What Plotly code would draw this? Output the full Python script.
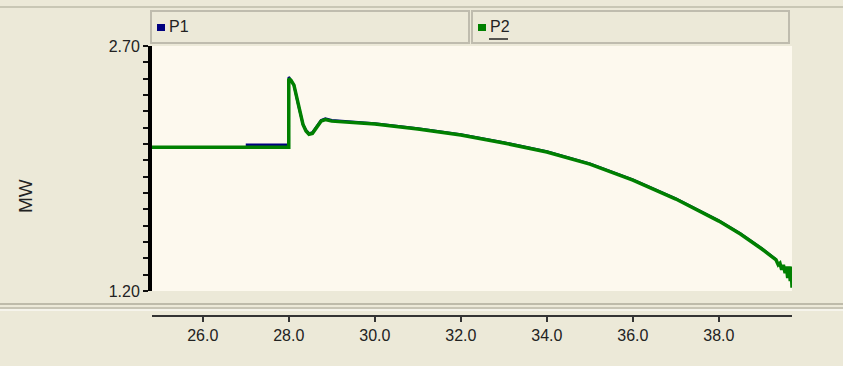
import plotly.graph_objects as go

# ---- data ----
p1_time = [27.0, 28.0, 28.0, 28.05, 28.12, 28.23, 28.33, 28.40, 28.47, 28.55, 28.65, 28.75,
           28.85, 29.0, 30.0, 31.0, 32.0, 33.0, 34.0, 35.0, 36.0, 37.0, 38.0, 38.5, 39.0, 39.33]
p1_mw = [2.095, 2.095, 2.51, 2.49, 2.46, 2.33, 2.22, 2.185, 2.165, 2.17, 2.21, 2.245,
         2.255, 2.245, 2.225, 2.195, 2.158, 2.109, 2.054, 1.98, 1.882, 1.766, 1.631, 1.552,
         1.46, 1.393]

p2_time = [24.82, 28.0, 28.0, 28.05, 28.12, 28.23, 28.33, 28.40, 28.47, 28.55, 28.65, 28.75,
           28.85, 29.0, 30.0, 31.0, 32.0, 33.0, 34.0, 35.0, 36.0, 37.0, 38.0, 38.5, 39.0, 39.33,
           39.38, 39.42, 39.46, 39.50, 39.54, 39.57, 39.60, 39.63, 39.66, 39.68, 39.70]
p2_mw = [2.08, 2.08, 2.50, 2.49, 2.46, 2.33, 2.22, 2.18, 2.16, 2.165, 2.205, 2.24,
         2.25, 2.24, 2.222, 2.192, 2.155, 2.106, 2.051, 1.977, 1.879, 1.763, 1.628, 1.549,
         1.457, 1.39,
         1.36, 1.37, 1.33, 1.36, 1.31, 1.35, 1.28, 1.35, 1.26, 1.35, 1.22]

series_names = ["P1", "P2"]
series_colors = ["#000080", "#008000"]

x_tick_vals = [26.0, 28.0, 30.0, 32.0, 34.0, 36.0, 38.0]
x_tick_text = ["26.0", "28.0", "30.0", "32.0", "34.0", "36.0", "38.0"]
y_min, y_max = 1.20, 2.70
y_tick_vals = [round(1.2 + 0.1 * i, 1) for i in range(16)]
y_tick_text = ["1.20"] + [""] * 14 + ["2.70"]
y_title = "MW"

# ---- layout geometry (pixels) ----
W, H = 843, 366
L, R = 152, 792          # plot area left/right
T, B = 46, 316           # paper top / x-axis line
PLOT_BOTTOM = 291
BG = "#ECE9D8"
FONT = "Liberation Sans"


def px(xp):
    return (xp - L) / (R - L)


def py(yp):
    return (B - yp) / (B - T)


fig = go.Figure()
fig.add_trace(go.Scatter(x=p1_time, y=p1_mw, mode="lines", name=series_names[0],
                         line=dict(color=series_colors[0], width=2.5)))
fig.add_trace(go.Scatter(x=p2_time, y=p2_mw, mode="lines", name=series_names[1],
                         line=dict(color=series_colors[1], width=3.5)))

shapes = []
annotations = []
# top thin line
shapes.append(dict(type="line", xref="paper", yref="paper", x0=px(0), x1=px(W),
                   y0=py(7), y1=py(7), line=dict(color="#BEBBAA", width=1.5)))
# legend boxes
boxes = [(151, 469), (472, 789)]
for i, (bx0, bx1) in enumerate(boxes):
    shapes.append(dict(type="rect", xref="paper", yref="paper",
                       x0=px(bx0), x1=px(bx1), y0=py(43), y1=py(11),
                       fillcolor=BG, line=dict(color="#BFBCAE", width=2)))
    shapes.append(dict(type="rect", xref="paper", yref="paper",
                       x0=px(bx0 + 6), x1=px(bx0 + 14), y0=py(31), y1=py(24),
                       fillcolor=series_colors[i], line=dict(width=0)))
    annotations.append(dict(xref="paper", yref="paper", x=px(bx0 + 16), y=py(27),
                            text=series_names[i], showarrow=False, xanchor="left",
                            yanchor="middle",
                            font=dict(family=FONT, size=16, color="#222")))
# underline under P2
shapes.append(dict(type="line", xref="paper", yref="paper", x0=px(489), x1=px(508),
                   y0=py(39), y1=py(39), line=dict(color="#222", width=1.5)))
# double separator line above x axis
shapes.append(dict(type="line", xref="paper", yref="paper", x0=px(0), x1=px(W),
                   y0=py(304), y1=py(304), line=dict(color="#BEBBAA", width=2)))
shapes.append(dict(type="line", xref="paper", yref="paper", x0=px(0), x1=px(W),
                   y0=py(308), y1=py(308), line=dict(color="#C8C5B5", width=2)))
shapes.append(dict(type="line", xref="paper", yref="paper", x0=px(0), x1=px(W),
                   y0=py(310), y1=py(310), line=dict(color="#FFFFFF", width=1)))

# y title
annotations.append(dict(xref="paper", yref="paper", x=px(25), y=py(196), text=y_title,
                        showarrow=False, textangle=-90, xanchor="center",
                        yanchor="middle",
                        font=dict(family=FONT, size=19, color="#222")))

fig.update_layout(
    width=W, height=H,
    margin=dict(l=L, r=W - R, t=T, b=H - B, pad=0),
    paper_bgcolor=BG, plot_bgcolor="#FDF9EE",
    showlegend=False,
    shapes=shapes, annotations=annotations,
    xaxis=dict(range=[24.82, 39.70], anchor="free", position=0,
               tickmode="array", tickvals=x_tick_vals, ticktext=x_tick_text,
               ticks="outside", ticklen=5, tickwidth=2, tickcolor="#333",
               showline=True, linecolor="#333", linewidth=2,
               showgrid=False, zeroline=False,
               tickfont=dict(family=FONT, size=16, color="#222")),
    yaxis=dict(range=[y_min, y_max], domain=[py(PLOT_BOTTOM), 1],
               tickmode="array", tickvals=y_tick_vals, ticktext=y_tick_text,
               ticks="outside", ticklen=5, tickwidth=2, tickcolor="#111",
               showline=True, linecolor="#000", linewidth=4,
               showgrid=False, zeroline=False,
               tickfont=dict(family=FONT, size=16, color="#222")),
)

fig.write_html("out.html",
               config={"displayModeBar": False},
               post_script="document.body.style.margin='0';"
                           "document.body.style.background='#ECE9D8';")
